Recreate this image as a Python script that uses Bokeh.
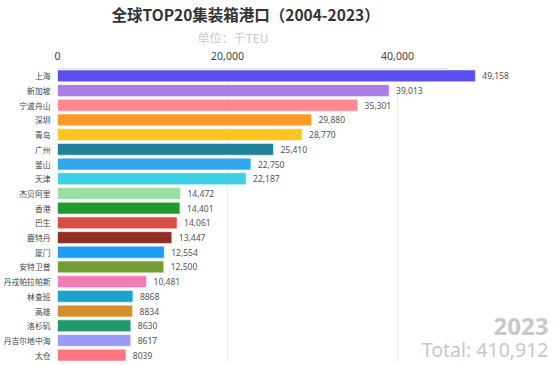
from bokeh.plotting import figure
from bokeh.models import ColumnDataSource, Title, Label, NumeralTickFormatter, FixedTicker, Range1d
from bokeh.core.properties import value
from bokeh.embed import file_html
from bokeh.resources import INLINE

ports = ["上海", "新加坡", "宁波舟山", "深圳", "青岛", "广州", "釜山", "天津", "杰贝阿里", "香港",
         "巴生", "鹿特丹", "厦门", "安特卫普", "丹戎帕拉帕斯", "林查班", "高雄", "洛杉矶", "丹吉尔地中海", "太仓"]
teu = [49158, 39013, 35301, 29880, 28770, 25410, 22750, 22187, 14472, 14401,
       14061, 13447, 12554, 12500, 10481, 8868, 8834, 8630, 8617, 8039]
colors = ["#5b50ef", "#a97ce8", "#ff8893", "#ff9a24", "#ffc520", "#1e829a", "#30a8ee", "#3dd0e8", "#98dfa4", "#209a2e",
          "#d94d45", "#922d26", "#1e9bf5", "#759e32", "#f57ab8", "#18a4cc", "#d4902a", "#22996a", "#9b9bf6", "#ff7580"]
year = "2023"
total = "Total: 410,912"
ticks = [0, 20000, 40000]

labels = [f"{v:,}" if v >= 10000 else str(v) for v in teu]
src = ColumnDataSource(dict(port=ports, teu=teu, color=colors, label=labels))

CJK = "Noto Sans CJK SC"
x_end = 58235

p = figure(width=552, height=362, output_backend="svg", toolbar_location=None,
           y_range=list(reversed(ports)), x_range=Range1d(0, x_end),
           x_axis_location="above", min_border_left=0, min_border_right=0,
           min_border_bottom=0, min_border_top=0)
p.outline_line_color = None
p.background_fill_color = "white"
p.border_fill_color = "white"

p.hbar(y="port", right="teu", left=0, height=0.8, color="color", line_color="white",
       line_alpha=0.5, line_width=1, source=src)
p.text(x="teu", y="port", text="label", source=src, x_offset=7, text_baseline="middle",
       text_font=value("Noto Sans"), text_font_size="8.5px", text_color="#555555")

xa = p.xaxis[0]
xa.ticker = FixedTicker(ticks=ticks)
xa.formatter = NumeralTickFormatter(format="0,0")
xa.major_tick_line_color = None
xa.minor_tick_line_color = None
xa.axis_line_color = "#dfe4f0"
xa.bounds = (0, 46000)
xa.major_label_text_font = "Noto Sans"
xa.major_label_text_font_size = "10.5px"
xa.major_label_text_color = "#444444"
xa.major_label_standoff = 3

ya = p.yaxis[0]
ya.major_tick_line_color = None
ya.minor_tick_line_color = None
ya.axis_line_color = None
ya.major_label_text_font = CJK
ya.major_label_text_font_size = "7.8px"
ya.major_label_text_color = "#444444"
ya.major_label_standoff = 1

p.ygrid.grid_line_color = None
p.xgrid.grid_line_color = "#eeeeee"
p.xgrid.ticker = FixedTicker(ticks=ticks)
p.y_range.range_padding = 0

p.add_layout(Title(text="单位：千TEU", text_font=CJK, text_font_size="12px",
                   text_font_style="normal", text_color="#cfc8c8", align="left", offset=140,
                   standoff=5), "above")
p.add_layout(Title(text="全球TOP20集装箱港口（2004-2023）", text_font=CJK, text_font_size="15.5px",
                   text_font_style="bold", text_color="#333333", align="left", offset=54,
                   standoff=0), "above")

p.add_layout(Label(x=x_end, y=36, x_units="data", y_units="screen", x_offset=-4, text=year,
                   text_align="right", text_baseline="alphabetic", text_font="Noto Sans",
                   text_font_size="24px", text_font_style="bold", text_color="#c8c8c8"))
p.add_layout(Label(x=x_end, y=13, x_units="data", y_units="screen", x_offset=-4, text=total,
                   text_align="right", text_baseline="alphabetic", text_font="Noto Sans",
                   text_font_size="19.5px", text_color="#c8c8c8"))

open("out.html", "w").write(file_html(p, INLINE))
